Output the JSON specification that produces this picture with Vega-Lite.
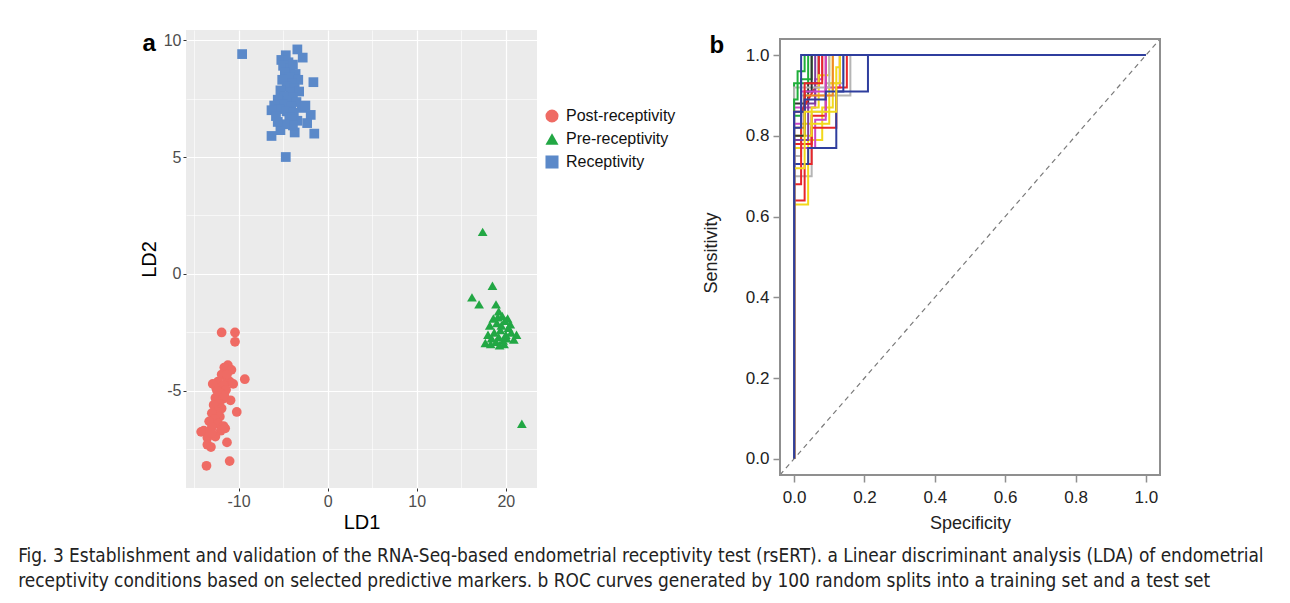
{
  "$schema": "https://vega.github.io/schema/vega-lite/v6.json",
  "background": "white",
  "padding": {"left": 18, "top": 30, "right": 10, "bottom": 5},
  "config": {"font": "Liberation Sans", "view": {"stroke": null}},
  "title": {
    "text": ["Fig. 3  Establishment and validation of the RNA-Seq-based endometrial receptivity test (rsERT). a Linear discriminant analysis (LDA) of endometrial", "receptivity conditions based on selected predictive markers. b ROC curves generated by 100 random splits into a training set and a test set"],
    "orient": "bottom", "anchor": "start", "frame": "bounds", "dx": -121, "offset": 15,
    "fontSize": 18.9, "font": "Liberation Sans Narrow, DejaVu Sans Condensed, sans-serif", "fontWeight": "normal", "color": "#222222", "lineHeight": 25
  },
  "datasets": {
    "lda": [
      {"cls": "Receptivity", "LD1": -9.6, "LD2": 9.4}, {"cls": "Receptivity", "LD1": -3.4, "LD2": 9.6}, {"cls": "Receptivity", "LD1": -2.8, "LD2": 9.25},
      {"cls": "Receptivity", "LD1": -4.7, "LD2": 9.35}, {"cls": "Receptivity", "LD1": -5.2, "LD2": 9.15}, {"cls": "Receptivity", "LD1": -4.4, "LD2": 9.05},
      {"cls": "Receptivity", "LD1": -5.0, "LD2": 8.9}, {"cls": "Receptivity", "LD1": -4.2, "LD2": 8.8}, {"cls": "Receptivity", "LD1": -3.9, "LD2": 8.95},
      {"cls": "Receptivity", "LD1": -4.8, "LD2": 8.6}, {"cls": "Receptivity", "LD1": -3.6, "LD2": 8.55}, {"cls": "Receptivity", "LD1": -4.3, "LD2": 8.4},
      {"cls": "Receptivity", "LD1": -5.1, "LD2": 8.3}, {"cls": "Receptivity", "LD1": -3.3, "LD2": 8.3}, {"cls": "Receptivity", "LD1": -1.6, "LD2": 8.2},
      {"cls": "Receptivity", "LD1": -4.0, "LD2": 8.15}, {"cls": "Receptivity", "LD1": -4.6, "LD2": 8.0}, {"cls": "Receptivity", "LD1": -3.7, "LD2": 7.95},
      {"cls": "Receptivity", "LD1": -5.3, "LD2": 7.85}, {"cls": "Receptivity", "LD1": -4.2, "LD2": 7.75}, {"cls": "Receptivity", "LD1": -3.2, "LD2": 7.8},
      {"cls": "Receptivity", "LD1": -4.9, "LD2": 7.6}, {"cls": "Receptivity", "LD1": -3.9, "LD2": 7.55}, {"cls": "Receptivity", "LD1": -5.6, "LD2": 7.45},
      {"cls": "Receptivity", "LD1": -4.4, "LD2": 7.4}, {"cls": "Receptivity", "LD1": -3.5, "LD2": 7.35}, {"cls": "Receptivity", "LD1": -5.0, "LD2": 7.25},
      {"cls": "Receptivity", "LD1": -6.0, "LD2": 7.2}, {"cls": "Receptivity", "LD1": -4.1, "LD2": 7.15}, {"cls": "Receptivity", "LD1": -2.9, "LD2": 7.1},
      {"cls": "Receptivity", "LD1": -5.4, "LD2": 7.05}, {"cls": "Receptivity", "LD1": -6.3, "LD2": 7.0}, {"cls": "Receptivity", "LD1": -4.6, "LD2": 6.95},
      {"cls": "Receptivity", "LD1": -3.8, "LD2": 6.9}, {"cls": "Receptivity", "LD1": -2.5, "LD2": 7.2}, {"cls": "Receptivity", "LD1": -1.9, "LD2": 6.8},
      {"cls": "Receptivity", "LD1": -5.8, "LD2": 6.75}, {"cls": "Receptivity", "LD1": -4.3, "LD2": 6.7}, {"cls": "Receptivity", "LD1": -3.4, "LD2": 6.55},
      {"cls": "Receptivity", "LD1": -4.0, "LD2": 6.6}, {"cls": "Receptivity", "LD1": -2.3, "LD2": 6.45}, {"cls": "Receptivity", "LD1": -1.5, "LD2": 6.0},
      {"cls": "Receptivity", "LD1": -6.3, "LD2": 5.9}, {"cls": "Receptivity", "LD1": -5.3, "LD2": 6.15}, {"cls": "Receptivity", "LD1": -3.7, "LD2": 6.05},
      {"cls": "Receptivity", "LD1": -3.9, "LD2": 6.35}, {"cls": "Receptivity", "LD1": -4.7, "LD2": 5.0}, {"cls": "Receptivity", "LD1": -4.8, "LD2": 6.4},
      {"cls": "Receptivity", "LD1": -5.6, "LD2": 6.5},
      {"cls": "Post-receptivity", "LD1": -11.9, "LD2": -2.5}, {"cls": "Post-receptivity", "LD1": -10.4, "LD2": -2.5}, {"cls": "Post-receptivity", "LD1": -10.4, "LD2": -2.9},
      {"cls": "Post-receptivity", "LD1": -11.2, "LD2": -3.9}, {"cls": "Post-receptivity", "LD1": -11.6, "LD2": -4.0}, {"cls": "Post-receptivity", "LD1": -10.8, "LD2": -4.1},
      {"cls": "Post-receptivity", "LD1": -11.9, "LD2": -4.3}, {"cls": "Post-receptivity", "LD1": -11.3, "LD2": -4.5}, {"cls": "Post-receptivity", "LD1": -9.3, "LD2": -4.5},
      {"cls": "Post-receptivity", "LD1": -12.3, "LD2": -4.6}, {"cls": "Post-receptivity", "LD1": -11.0, "LD2": -4.6}, {"cls": "Post-receptivity", "LD1": -11.7, "LD2": -4.75},
      {"cls": "Post-receptivity", "LD1": -12.5, "LD2": -4.9}, {"cls": "Post-receptivity", "LD1": -11.4, "LD2": -4.95}, {"cls": "Post-receptivity", "LD1": -10.6, "LD2": -4.7},
      {"cls": "Post-receptivity", "LD1": -12.0, "LD2": -5.1}, {"cls": "Post-receptivity", "LD1": -12.6, "LD2": -5.3}, {"cls": "Post-receptivity", "LD1": -11.8, "LD2": -5.35},
      {"cls": "Post-receptivity", "LD1": -12.2, "LD2": -5.55}, {"cls": "Post-receptivity", "LD1": -12.8, "LD2": -5.6}, {"cls": "Post-receptivity", "LD1": -11.9, "LD2": -5.75},
      {"cls": "Post-receptivity", "LD1": -12.4, "LD2": -5.9}, {"cls": "Post-receptivity", "LD1": -13.0, "LD2": -5.95}, {"cls": "Post-receptivity", "LD1": -12.1, "LD2": -6.1},
      {"cls": "Post-receptivity", "LD1": -10.2, "LD2": -5.9}, {"cls": "Post-receptivity", "LD1": -12.7, "LD2": -6.2}, {"cls": "Post-receptivity", "LD1": -13.3, "LD2": -6.3},
      {"cls": "Post-receptivity", "LD1": -12.3, "LD2": -6.4}, {"cls": "Post-receptivity", "LD1": -11.7, "LD2": -6.5}, {"cls": "Post-receptivity", "LD1": -13.0, "LD2": -6.55},
      {"cls": "Post-receptivity", "LD1": -13.9, "LD2": -6.7}, {"cls": "Post-receptivity", "LD1": -14.2, "LD2": -6.75}, {"cls": "Post-receptivity", "LD1": -12.0, "LD2": -6.7},
      {"cls": "Post-receptivity", "LD1": -11.5, "LD2": -6.6}, {"cls": "Post-receptivity", "LD1": -13.5, "LD2": -7.0}, {"cls": "Post-receptivity", "LD1": -12.6, "LD2": -6.95},
      {"cls": "Post-receptivity", "LD1": -13.5, "LD2": -7.3}, {"cls": "Post-receptivity", "LD1": -11.3, "LD2": -7.2}, {"cls": "Post-receptivity", "LD1": -13.1, "LD2": -7.4},
      {"cls": "Post-receptivity", "LD1": -11.0, "LD2": -8.0}, {"cls": "Post-receptivity", "LD1": -13.6, "LD2": -8.2}, {"cls": "Post-receptivity", "LD1": -12.9, "LD2": -4.7},
      {"cls": "Post-receptivity", "LD1": -10.9, "LD2": -5.4}, {"cls": "Post-receptivity", "LD1": -11.6, "LD2": -5.2}, {"cls": "Post-receptivity", "LD1": -12.4, "LD2": -5.0},
      {"cls": "Post-receptivity", "LD1": -13.0, "LD2": -6.8}, {"cls": "Post-receptivity", "LD1": -11.3, "LD2": -4.3},
      {"cls": "Pre-receptivity", "LD1": 17.4, "LD2": 1.8}, {"cls": "Pre-receptivity", "LD1": 18.5, "LD2": -0.5}, {"cls": "Pre-receptivity", "LD1": 16.2, "LD2": -1.0},
      {"cls": "Pre-receptivity", "LD1": 17.0, "LD2": -1.3}, {"cls": "Pre-receptivity", "LD1": 21.8, "LD2": -6.4}, {"cls": "Pre-receptivity", "LD1": 17.7, "LD2": -2.95},
      {"cls": "Pre-receptivity", "LD1": 18.9, "LD2": -1.3}, {"cls": "Pre-receptivity", "LD1": 19.2, "LD2": -1.6}, {"cls": "Pre-receptivity", "LD1": 18.6, "LD2": -1.9},
      {"cls": "Pre-receptivity", "LD1": 19.6, "LD2": -1.8}, {"cls": "Pre-receptivity", "LD1": 18.2, "LD2": -2.2}, {"cls": "Pre-receptivity", "LD1": 19.0, "LD2": -2.1},
      {"cls": "Pre-receptivity", "LD1": 19.9, "LD2": -2.0}, {"cls": "Pre-receptivity", "LD1": 20.3, "LD2": -2.3}, {"cls": "Pre-receptivity", "LD1": 19.4, "LD2": -2.4},
      {"cls": "Pre-receptivity", "LD1": 18.7, "LD2": -2.5}, {"cls": "Pre-receptivity", "LD1": 20.0, "LD2": -2.6}, {"cls": "Pre-receptivity", "LD1": 19.2, "LD2": -2.7},
      {"cls": "Pre-receptivity", "LD1": 20.6, "LD2": -2.5}, {"cls": "Pre-receptivity", "LD1": 18.4, "LD2": -2.75}, {"cls": "Pre-receptivity", "LD1": 19.7, "LD2": -2.85},
      {"cls": "Pre-receptivity", "LD1": 20.9, "LD2": -2.8}, {"cls": "Pre-receptivity", "LD1": 18.0, "LD2": -2.6}, {"cls": "Pre-receptivity", "LD1": 19.5, "LD2": -2.2},
      {"cls": "Pre-receptivity", "LD1": 20.2, "LD2": -1.9}, {"cls": "Pre-receptivity", "LD1": 18.9, "LD2": -2.9}, {"cls": "Pre-receptivity", "LD1": 19.8, "LD2": -3.0},
      {"cls": "Pre-receptivity", "LD1": 20.5, "LD2": -2.15}, {"cls": "Pre-receptivity", "LD1": 21.2, "LD2": -2.6}, {"cls": "Pre-receptivity", "LD1": 19.1, "LD2": -1.85},
      {"cls": "Pre-receptivity", "LD1": 19.3, "LD2": -3.05}, {"cls": "Pre-receptivity", "LD1": 20.1, "LD2": -2.75}, {"cls": "Pre-receptivity", "LD1": 18.3, "LD2": -3.0}
    ],
    "diag": [{"x": -0.04, "y": -0.04}, {"x": 1.04, "y": 1.04}],
    "roc": [
      {"run":"r01","i":0,"x":0,"y":0},{"run":"r01","i":1,"x":0,"y":0.70},{"run":"r01","i":2,"x":0.05,"y":0.70},{"run":"r01","i":3,"x":0.05,"y":0.86},{"run":"r01","i":4,"x":0.09,"y":0.86},{"run":"r01","i":5,"x":0.09,"y":0.93},{"run":"r01","i":6,"x":0.14,"y":0.93},{"run":"r01","i":7,"x":0.14,"y":1},{"run":"r01","i":8,"x":1,"y":1},
      {"run":"r02","i":0,"x":0,"y":0},{"run":"r02","i":1,"x":0,"y":0.63},{"run":"r02","i":2,"x":0.04,"y":0.63},{"run":"r02","i":3,"x":0.04,"y":0.79},{"run":"r02","i":4,"x":0.08,"y":0.79},{"run":"r02","i":5,"x":0.08,"y":0.87},{"run":"r02","i":6,"x":0.11,"y":0.87},{"run":"r02","i":7,"x":0.11,"y":1},{"run":"r02","i":8,"x":1,"y":1},
      {"run":"r03","i":0,"x":0,"y":0},{"run":"r03","i":1,"x":0,"y":0.64},{"run":"r03","i":2,"x":0.03,"y":0.64},{"run":"r03","i":3,"x":0.03,"y":0.73},{"run":"r03","i":4,"x":0.05,"y":0.73},{"run":"r03","i":5,"x":0.05,"y":0.85},{"run":"r03","i":6,"x":0.09,"y":0.85},{"run":"r03","i":7,"x":0.09,"y":1},{"run":"r03","i":8,"x":1,"y":1},
      {"run":"r04","i":0,"x":0,"y":0},{"run":"r04","i":1,"x":0,"y":0.93},{"run":"r04","i":2,"x":0.04,"y":0.93},{"run":"r04","i":3,"x":0.04,"y":1},{"run":"r04","i":4,"x":1,"y":1},
      {"run":"r05","i":0,"x":0,"y":0},{"run":"r05","i":1,"x":0,"y":0.77},{"run":"r05","i":2,"x":0.06,"y":0.77},{"run":"r05","i":3,"x":0.06,"y":0.84},{"run":"r05","i":4,"x":0.09,"y":0.84},{"run":"r05","i":5,"x":0.09,"y":0.92},{"run":"r05","i":6,"x":0.13,"y":0.92},{"run":"r05","i":7,"x":0.13,"y":1},{"run":"r05","i":8,"x":1,"y":1},
      {"run":"r06","i":0,"x":0,"y":0},{"run":"r06","i":1,"x":0,"y":0.88},{"run":"r06","i":2,"x":0.04,"y":0.88},{"run":"r06","i":3,"x":0.04,"y":0.93},{"run":"r06","i":4,"x":0.07,"y":0.93},{"run":"r06","i":5,"x":0.07,"y":1},{"run":"r06","i":6,"x":1,"y":1},
      {"run":"r07","i":0,"x":0,"y":0},{"run":"r07","i":1,"x":0,"y":0.77},{"run":"r07","i":2,"x":0.02,"y":0.77},{"run":"r07","i":3,"x":0.02,"y":0.83},{"run":"r07","i":4,"x":0.10,"y":0.83},{"run":"r07","i":5,"x":0.10,"y":0.93},{"run":"r07","i":6,"x":0.13,"y":0.93},{"run":"r07","i":7,"x":0.13,"y":1},{"run":"r07","i":8,"x":1,"y":1},
      {"run":"r08","i":0,"x":0,"y":0},{"run":"r08","i":1,"x":0,"y":0.78},{"run":"r08","i":2,"x":0.05,"y":0.78},{"run":"r08","i":3,"x":0.05,"y":0.82},{"run":"r08","i":4,"x":0.12,"y":0.82},{"run":"r08","i":5,"x":0.12,"y":0.92},{"run":"r08","i":6,"x":0.15,"y":0.92},{"run":"r08","i":7,"x":0.15,"y":1},{"run":"r08","i":8,"x":1,"y":1},
      {"run":"r09","i":0,"x":0,"y":0},{"run":"r09","i":1,"x":0,"y":0.75},{"run":"r09","i":2,"x":0.02,"y":0.75},{"run":"r09","i":3,"x":0.02,"y":0.90},{"run":"r09","i":4,"x":0.16,"y":0.90},{"run":"r09","i":5,"x":0.16,"y":1},{"run":"r09","i":6,"x":1,"y":1},
      {"run":"r10","i":0,"x":0,"y":0},{"run":"r10","i":1,"x":0,"y":0.73},{"run":"r10","i":2,"x":0.04,"y":0.73},{"run":"r10","i":3,"x":0.04,"y":0.77},{"run":"r10","i":4,"x":0.12,"y":0.77},{"run":"r10","i":5,"x":0.12,"y":0.91},{"run":"r10","i":6,"x":0.14,"y":0.91},{"run":"r10","i":7,"x":0.14,"y":1},{"run":"r10","i":8,"x":1,"y":1},
      {"run":"r11","i":0,"x":0,"y":0},{"run":"r11","i":1,"x":0,"y":0.85},{"run":"r11","i":2,"x":0.02,"y":0.85},{"run":"r11","i":3,"x":0.02,"y":0.94},{"run":"r11","i":4,"x":0.05,"y":0.94},{"run":"r11","i":5,"x":0.05,"y":1},{"run":"r11","i":6,"x":1,"y":1},
      {"run":"r12","i":0,"x":0,"y":0},{"run":"r12","i":1,"x":0,"y":0.87},{"run":"r12","i":2,"x":0.06,"y":0.87},{"run":"r12","i":3,"x":0.06,"y":0.94},{"run":"r12","i":4,"x":0.08,"y":0.94},{"run":"r12","i":5,"x":0.08,"y":1},{"run":"r12","i":6,"x":1,"y":1},
      {"run":"r13","i":0,"x":0,"y":0},{"run":"r13","i":1,"x":0,"y":0.68},{"run":"r13","i":2,"x":0.02,"y":0.68},{"run":"r13","i":3,"x":0.02,"y":0.86},{"run":"r13","i":4,"x":0.06,"y":0.92},{"run":"r13","i":5,"x":0.07,"y":0.92},{"run":"r13","i":6,"x":0.07,"y":1},{"run":"r13","i":7,"x":1,"y":1},
      {"run":"r14","i":0,"x":0,"y":0},{"run":"r14","i":1,"x":0,"y":0.80},{"run":"r14","i":2,"x":0.05,"y":0.80},{"run":"r14","i":3,"x":0.05,"y":0.87},{"run":"r14","i":4,"x":0.07,"y":0.87},{"run":"r14","i":5,"x":0.07,"y":0.95},{"run":"r14","i":6,"x":0.10,"y":0.95},{"run":"r14","i":7,"x":0.10,"y":1},{"run":"r14","i":8,"x":1,"y":1},
      {"run":"r15","i":0,"x":0,"y":0},{"run":"r15","i":1,"x":0,"y":0.79},{"run":"r15","i":2,"x":0.04,"y":0.79},{"run":"r15","i":3,"x":0.04,"y":0.88},{"run":"r15","i":4,"x":0.06,"y":0.88},{"run":"r15","i":5,"x":0.06,"y":1},{"run":"r15","i":6,"x":1,"y":1},
      {"run":"r16","i":0,"x":0,"y":0},{"run":"r16","i":1,"x":0,"y":0.82},{"run":"r16","i":2,"x":0.03,"y":0.82},{"run":"r16","i":3,"x":0.03,"y":0.90},{"run":"r16","i":4,"x":0.11,"y":0.90},{"run":"r16","i":5,"x":0.11,"y":1},{"run":"r16","i":6,"x":1,"y":1},
      {"run":"r17","i":0,"x":0,"y":0},{"run":"r17","i":1,"x":0,"y":0.92},{"run":"r17","i":2,"x":0.10,"y":0.92},{"run":"r17","i":3,"x":0.10,"y":1},{"run":"r17","i":4,"x":1,"y":1},
      {"run":"r18","i":0,"x":0,"y":0},{"run":"r18","i":1,"x":0,"y":0.80},{"run":"r18","i":2,"x":0.03,"y":0.80},{"run":"r18","i":3,"x":0.03,"y":0.91},{"run":"r18","i":4,"x":0.05,"y":0.91},{"run":"r18","i":5,"x":0.05,"y":1},{"run":"r18","i":6,"x":1,"y":1},
      {"run":"r19","i":0,"x":0,"y":0},{"run":"r19","i":1,"x":0,"y":0.89},{"run":"r19","i":2,"x":0.01,"y":0.89},{"run":"r19","i":3,"x":0.01,"y":0.96},{"run":"r19","i":4,"x":0.03,"y":0.96},{"run":"r19","i":5,"x":0.03,"y":1},{"run":"r19","i":6,"x":1,"y":1},
      {"run":"r20","i":0,"x":0,"y":0},{"run":"r20","i":1,"x":0,"y":0.83},{"run":"r20","i":2,"x":0.02,"y":0.83},{"run":"r20","i":3,"x":0.02,"y":0.91},{"run":"r20","i":4,"x":0.09,"y":0.91},{"run":"r20","i":5,"x":0.09,"y":1},{"run":"r20","i":6,"x":1,"y":1},
      {"run":"r21","i":0,"x":0,"y":0},{"run":"r21","i":1,"x":0,"y":0.86},{"run":"r21","i":2,"x":0.03,"y":0.86},{"run":"r21","i":3,"x":0.03,"y":0.93},{"run":"r21","i":4,"x":0.08,"y":0.93},{"run":"r21","i":5,"x":0.08,"y":1},{"run":"r21","i":6,"x":1,"y":1},
      {"run":"r22","i":0,"x":0,"y":0},{"run":"r22","i":1,"x":0,"y":0.86},{"run":"r22","i":2,"x":0.03,"y":0.86},{"run":"r22","i":3,"x":0.03,"y":0.89},{"run":"r22","i":4,"x":0.09,"y":0.89},{"run":"r22","i":5,"x":0.09,"y":0.91},{"run":"r22","i":6,"x":0.21,"y":0.91},{"run":"r22","i":7,"x":0.21,"y":1},{"run":"r22","i":8,"x":1,"y":1},
      {"run":"r23","i":0,"x":0,"y":0},{"run":"r23","i":1,"x":0,"y":0.72},{"run":"r23","i":2,"x":0.03,"y":0.72},{"run":"r23","i":3,"x":0.03,"y":0.86},{"run":"r23","i":4,"x":0.12,"y":0.86},{"run":"r23","i":5,"x":0.12,"y":0.97},{"run":"r23","i":6,"x":0.13,"y":0.97},{"run":"r23","i":7,"x":0.13,"y":1},{"run":"r23","i":8,"x":1,"y":1},
      {"run":"r24","i":0,"x":0,"y":0},{"run":"r24","i":1,"x":0,"y":0.82},{"run":"r24","i":2,"x":0.02,"y":0.82},{"run":"r24","i":3,"x":0.02,"y":1},{"run":"r24","i":4,"x":1,"y":1}
    ]
  },
  "hconcat": [
    {
      "width": 351,
      "height": 458,
      "view": {"fill": "#EBEBEB", "stroke": null},
      "data": {"name": "lda"},
      "layer": [
        {
          "mark": {"type": "point", "opacity": 0},
          "encoding": {
            "x": {"field": "LD1", "type": "quantitative", "scale": {"domain": [-15.9, 23.5], "nice": false, "zero": false},
                  "axis": {"orient": "top", "values": [-15, -5, 5, 15], "grid": true, "gridColor": "#FFFFFF", "gridWidth": 0.6, "labels": false, "ticks": false, "domain": false, "minExtent": 0,
                           "title": "a", "titleX": -44, "titleY": 20, "titleAngle": 0, "titleAlign": "left", "titleBaseline": "alphabetic", "titleFontSize": 24, "titleFontWeight": "bold", "titleColor": "#000000", "titleFont": "Liberation Sans"}},
            "y": {"field": "LD2", "type": "quantitative", "scale": {"domain": [-9.15, 10.43], "nice": false, "zero": false},
                  "axis": {"orient": "right", "values": [-7.5, -2.5, 2.5, 7.5], "grid": true, "gridColor": "#FFFFFF", "gridWidth": 0.6, "labels": false, "ticks": false, "domain": false, "title": null, "minExtent": 0}}
          }
        },
        {
          "mark": {"type": "point", "filled": true, "opacity": 1, "size": 95},
          "encoding": {
            "x": {"field": "LD1", "type": "quantitative",
                  "axis": {"orient": "bottom", "values": [-10, 0, 10, 20], "labelExpr": "datum.value + ''", "grid": true, "gridColor": "#FFFFFF", "gridWidth": 1.2, "domain": false, "tickColor": "#333333", "tickSize": 3, "labelPadding": 2, "labelColor": "#4D4D4D", "labelFontSize": 16, "labelFont": "Liberation Sans", "title": "LD1", "titleFontSize": 20, "titleFontWeight": "normal", "titleColor": "#000000", "titlePadding": 3, "titleFont": "Liberation Sans"}},
            "y": {"field": "LD2", "type": "quantitative",
                  "axis": {"orient": "left", "values": [-5, 0, 5, 10], "labelExpr": "datum.value + ''", "grid": true, "gridColor": "#FFFFFF", "gridWidth": 1.2, "domain": false, "tickColor": "#333333", "tickSize": 3, "labelPadding": 2, "labelColor": "#4D4D4D", "labelFontSize": 16, "labelFont": "Liberation Sans", "title": "LD2", "titleFontSize": 20, "titleFontWeight": "normal", "titleColor": "#000000", "titlePadding": 4, "titleFont": "Liberation Sans"}},
            "color": {"field": "cls", "type": "nominal",
                      "scale": {"domain": ["Post-receptivity", "Pre-receptivity", "Receptivity"], "range": ["#EF6B64", "#22A744", "#5B89C9"]},
                      "legend": {"title": null, "orient": "none", "legendX": 358, "legendY": 78, "labelFontSize": 16, "labelFont": "Liberation Sans", "labelColor": "#111111", "symbolSize": 170, "symbolStrokeWidth": 0, "rowPadding": 7, "padding": 0, "labelOffset": 6}},
            "shape": {"field": "cls", "type": "nominal",
                      "scale": {"domain": ["Post-receptivity", "Pre-receptivity", "Receptivity"], "range": ["circle", "triangle-up", "square"]},
                      "legend": {"title": null, "orient": "none", "legendX": 358, "legendY": 78, "labelFontSize": 16, "labelFont": "Liberation Sans", "labelColor": "#111111", "symbolSize": 170, "symbolStrokeWidth": 0, "rowPadding": 7, "padding": 0, "labelOffset": 6}}
          }
        }
      ],
      "resolve": {"axis": {"x": "independent", "y": "independent"}}
    },
    {
      "width": 380,
      "height": 445,
      "view": {"stroke": null, "fill": "white"},
      "layer": [
        {
          "data": {"name": "diag"},
          "mark": {"type": "line", "color": "#7A7A7A", "strokeWidth": 1.2, "strokeDash": [5, 4], "clip": true},
          "encoding": {
            "x": {"field": "x", "type": "quantitative", "scale": {"domain": [-0.04, 1.04], "nice": false, "zero": false},
                  "axis": {"orient": "bottom", "values": [0, 0.2, 0.4, 0.6, 0.8, 1.0], "format": ".1f", "grid": false, "domain": false, "tickColor": "#8F8F8F", "tickWidth": 1.5, "tickSize": 7, "labelPadding": 7, "labelColor": "#222222", "labelFontSize": 17, "labelFont": "Liberation Sans", "title": "Specificity", "titleFontSize": 18, "titleFontWeight": "normal", "titleColor": "#222222", "titlePadding": 9, "titleFont": "Liberation Sans"}},
            "y": {"field": "y", "type": "quantitative", "scale": {"domain": [-0.04, 1.0622], "nice": false, "zero": false},
                  "axis": {"orient": "left", "values": [0, 0.2, 0.4, 0.6, 0.8, 1.0], "format": ".1f", "grid": false, "domain": false, "tickColor": "#8F8F8F", "tickWidth": 1.5, "tickSize": 7, "labelPadding": 4, "labelColor": "#222222", "labelFontSize": 17, "labelFont": "Liberation Sans", "title": "Sensitivity", "titleFontSize": 18, "titleFontWeight": "normal", "titleColor": "#222222", "titlePadding": 25, "titleFont": "Liberation Sans"}}
          }
        },
        {
          "data": {"name": "roc"},
          "mark": {"type": "line", "strokeWidth": 2, "clip": true},
          "encoding": {
            "x": {"field": "x", "type": "quantitative",
                  "axis": {"orient": "top", "grid": false, "labels": false, "domain": false, "ticks": false, "minExtent": 0,
                           "title": "b", "titleX": -71, "titleY": 22, "titleAngle": 0, "titleAlign": "left", "titleBaseline": "alphabetic", "titleFontSize": 24, "titleFontWeight": "bold", "titleColor": "#000000", "titleFont": "Liberation Sans"}},
            "y": {"field": "y", "type": "quantitative"},
            "order": {"field": "i", "type": "quantitative"},
            "color": {"field": "run", "type": "nominal", "legend": null,
                      "scale": {"domain": ["r01","r02","r03","r04","r05","r06","r07","r08","r09","r10","r11","r12","r13","r14","r15","r16","r17","r18","r19","r20","r21","r22","r23","r24"],
                                "range": ["#B5B5B5","#F2D81C","#E8262A","#1FAE3A","#C846C8","#333333","#F2D81C","#E8262A","#B5B5B5","#2F3E9E","#1FAE3A","#C846C8","#E8262A","#F2D81C","#7B3FA0","#F08A24","#B5B5B5","#333333","#1FAE3A","#C846C8","#E8262A","#2F3E9E","#F2D81C","#2F3E9E"]}}
          }
        },
        {
          "data": {"values": [{}]},
          "mark": {"type": "rect", "filled": false, "stroke": "#8F8F8F", "strokeWidth": 2},
          "encoding": {
            "x": {"datum": -0.04, "type": "quantitative", "axis": null},
            "x2": {"datum": 1.04},
            "y": {"datum": -0.04, "type": "quantitative"},
            "y2": {"datum": 1.04}
          }
        }
      ],
      "resolve": {"axis": {"x": "independent"}}
    }
  ],
  "spacing": 26,
  "resolve": {"scale": {"color": "independent", "shape": "independent"}, "legend": {"color": "independent", "shape": "independent"}}
}
